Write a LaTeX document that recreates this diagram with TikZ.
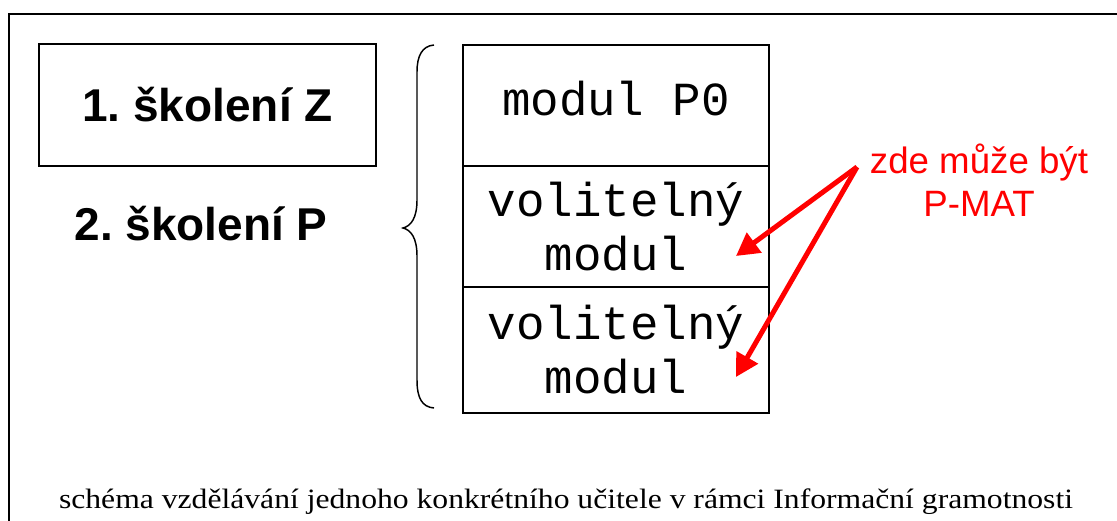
\documentclass[tikz,border=0pt]{standalone}
\usepackage{fontspec}
\setmainfont{Liberation Serif}
\setsansfont{Liberation Sans}
\setmonofont{Liberation Mono}
\usetikzlibrary{arrows.meta}
\frenchspacing

\tikzset{
  skolbox/.style={draw, line width=1.1pt, inner sep=0pt, minimum width=252.75pt, minimum height=91.5pt,
    font=\sffamily\bfseries\fontsize{34.5}{40}\selectfont},
  modbox/.style={draw, line width=1.1pt, inner sep=0pt, minimum width=229.5pt, align=center,
    font=\ttfamily\fontsize{35.6}{40.5}\selectfont},
  redarrow/.style={red, line width=3.75pt, -{Triangle[length=17pt, width=18pt]}}
}

\begin{document}
\begin{tikzpicture}[x=0.75pt, y=-0.75pt]
        \useasboundingbox (0,0) rectangle (1117,521);

        % Outer frame (cut at right and bottom)
        \draw[line width=1.5pt] (9,521) -- (9,14) -- (1117,14);

        % Left side: the two trainings
        \node[skolbox] (skolZ) at (207.5,105) {1. školení Z};
        \node[font=\sffamily\bfseries\fontsize{34.5}{40}\selectfont, anchor=base] (skolP) at (201,240) {2. školení P};

        % Brace
        \draw[line width=1.1pt] (434,45) .. controls (422,46) and (417,56) .. (417,72) -- (417,200)
            .. controls (417,218) and (411,226) .. (403,228)
            .. controls (411,230) and (417,238) .. (417,256) -- (417,380)
            .. controls (417,398) and (422,407) .. (434,408);

        % Right side: stack of modules
        \node[modbox, minimum height=90.75pt, text depth=10.5pt] (modP0) at (616,105.5) {modul P0};
        \node[modbox, minimum height=90.75pt] (volA) at (616,226.5) {volitelný\\modul};
        \node[modbox, minimum height=94.5pt] (volB) at (616,350) {volitelný\\modul};

        % Red note with arrows
        \node[red, align=center, font=\sffamily\fontsize{27.5}{32.25}\selectfont] (note) at (979,180) {zde může být\\P-MAT};
        \coordinate (src) at (857,167);
        \coordinate (tipA) at (736,256);
        \coordinate (tipB) at (736,377);
        \draw[redarrow] (src) -- (tipA);
        \draw[redarrow] (src) -- (tipB);

        % Caption
        \node[anchor=base, font=\fontsize{21}{25}\selectfont] (caption) at (566,508)
            {\scalebox{1.13}[1]{schéma vzdělávání jednoho konkrétního učitele v rámci Informační gramotnosti}};
    \end{tikzpicture}
\end{document}
